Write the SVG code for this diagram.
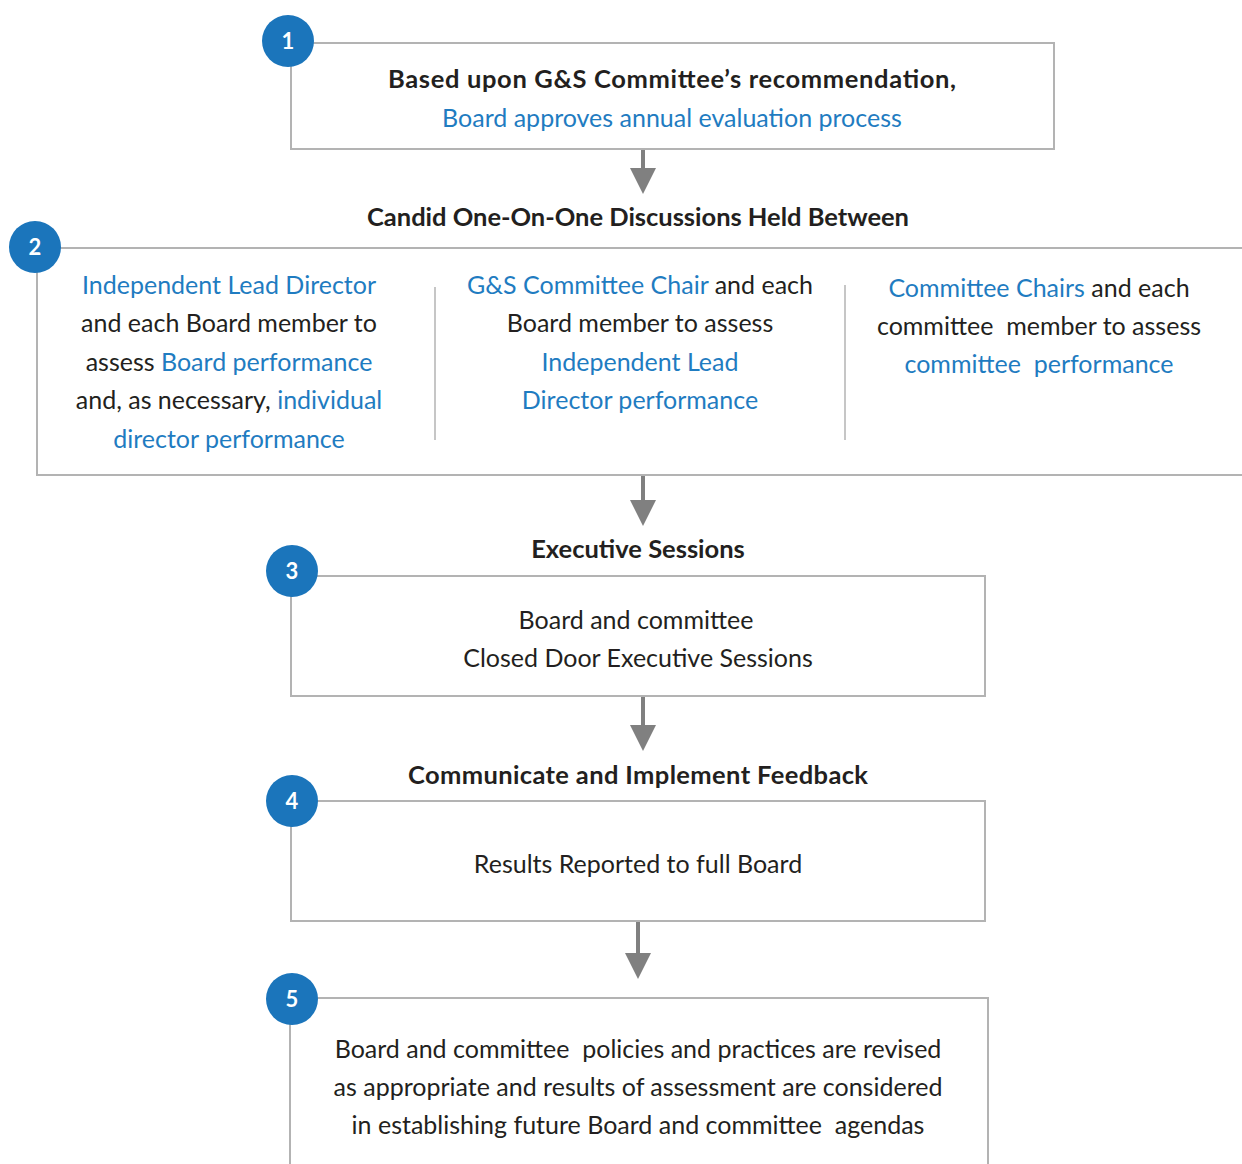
<svg xmlns="http://www.w3.org/2000/svg" width="1242" height="1164" viewBox="0 0 1242 1164">
<defs>
<style>
.box{fill:none;stroke:#b3b3b3;stroke-width:2}
.div{stroke:#b3b3b3;stroke-width:1.5}
.t{font-family:Lato,"Open Sans",sans-serif;font-size:25px;fill:#231f20;text-anchor:middle;white-space:pre}
.b{fill:#1f7cc1}
.h{font-family:Lato,"Open Sans",sans-serif;font-size:25.5px;font-weight:bold;fill:#231f20;text-anchor:middle}
.num circle{fill:#1b75bb}
.num text{font-family:Lato,"Open Sans",sans-serif;font-size:22px;font-weight:bold;fill:#ffffff;text-anchor:middle}
.arr{stroke:#808080;stroke-width:4;fill:none}
</style>
<marker id="ah" viewBox="0 0 10 10" refX="0" refY="5" markerWidth="6.5" markerHeight="6.5" markerUnits="strokeWidth" orient="auto">
<path d="M0,0 L10,5 L0,10 Z" fill="#808080"/>
</marker>
</defs>
<g id="connectors">
<line class="arr" x1="643" y1="149" x2="643" y2="168" marker-end="url(#ah)"/>
<line class="arr" x1="643" y1="475" x2="643" y2="500" marker-end="url(#ah)"/>
<line class="arr" x1="643" y1="696" x2="643" y2="725" marker-end="url(#ah)"/>
<line class="arr" x1="638" y1="921" x2="638" y2="953" marker-end="url(#ah)"/>
</g>
<g id="node1">
<rect class="box" x="291" y="43" width="763" height="106"/>
<text class="h" x="672" y="88" textLength="568" lengthAdjust="spacing">Based upon G&amp;S Committee’s recommendation,</text>
<text class="t b" x="672" y="127">Board approves annual evaluation process</text>
<g class="num"><circle cx="288" cy="41" r="26"/><text x="288" y="49">1</text></g>
</g>
<g id="node2">
<text class="h" x="638" y="226" textLength="542" lengthAdjust="spacing">Candid One-On-One Discussions Held Between</text>
<path class="box" d="M1242,248 H37 V475 H1242"/>
<line class="div" x1="435" y1="287" x2="435" y2="440"/>
<line class="div" x1="845" y1="285" x2="845" y2="440"/>
<text class="t" x="229" y="294"><tspan class="b">Independent Lead Director</tspan></text>
<text class="t" x="229" y="332">and each Board member to</text>
<text class="t" x="229" y="371">assess <tspan class="b">Board performance</tspan></text>
<text class="t" x="229" y="409">and, as necessary, <tspan class="b">individual</tspan></text>
<text class="t b" x="229" y="448">director performance</text>
<text class="t" x="640" y="294"><tspan class="b">G&amp;S Committee Chair</tspan> and each</text>
<text class="t" x="640" y="332">Board member to assess</text>
<text class="t b" x="640" y="371">Independent Lead</text>
<text class="t b" x="640" y="409">Director performance</text>
<text class="t" x="1039" y="297"><tspan class="b">Committee Chairs</tspan> and each</text>
<text class="t" x="1039" y="335">committee  member to assess</text>
<text class="t b" x="1039" y="373">committee  performance</text>
<g class="num"><circle cx="35" cy="247" r="26"/><text x="35" y="255">2</text></g>
</g>
<g id="node3">
<text class="h" x="638" y="558">Executive Sessions</text>
<rect class="box" x="291" y="576" width="694" height="120"/>
<text class="t" x="636" y="629">Board and committee</text>
<text class="t" x="638" y="667">Closed Door Executive Sessions</text>
<g class="num"><circle cx="292" cy="571" r="26"/><text x="292" y="579">3</text></g>
</g>
<g id="node4">
<text class="h" x="638" y="784" textLength="460" lengthAdjust="spacing">Communicate and Implement Feedback</text>
<rect class="box" x="291" y="801" width="694" height="120"/>
<text class="t" x="638" y="873">Results Reported to full Board</text>
<g class="num"><circle cx="292" cy="801" r="26"/><text x="292" y="809">4</text></g>
</g>
<g id="node5">
<path class="box" d="M290,1164 V998 H988 V1164"/>
<text class="t" x="638" y="1058">Board and committee  policies and practices are revised</text>
<text class="t" x="638" y="1096">as appropriate and results of assessment are considered</text>
<text class="t" x="638" y="1134">in establishing future Board and committee  agendas</text>
<g class="num"><circle cx="292" cy="999" r="26"/><text x="292" y="1007">5</text></g>
</g>
</svg>
